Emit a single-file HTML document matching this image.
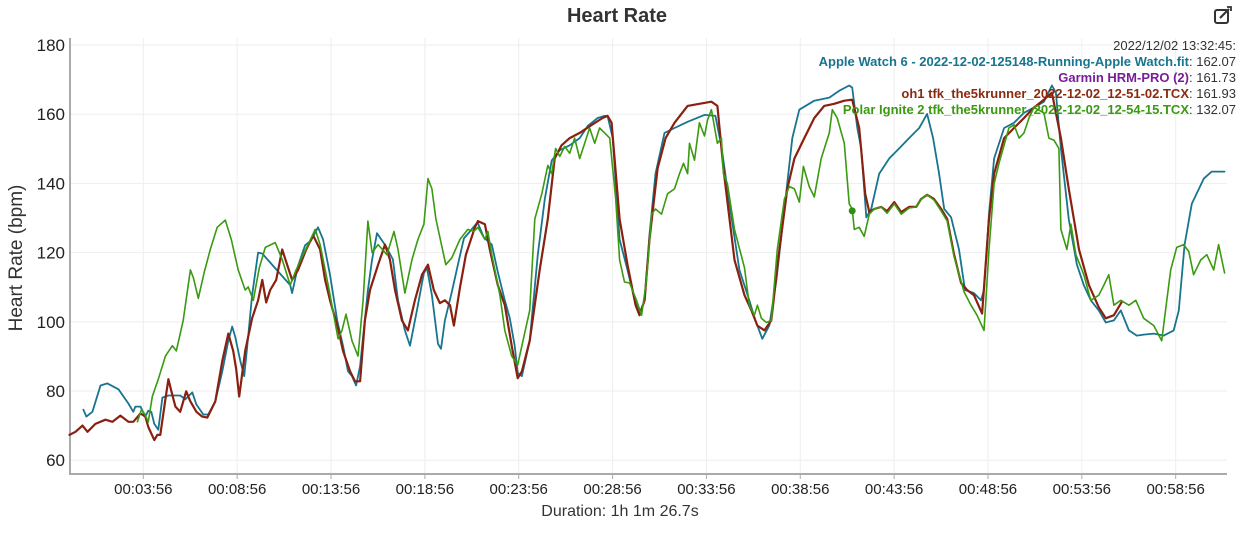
<!DOCTYPE html>
<html><head><meta charset="utf-8"><style>
body{margin:0;background:#fff;font-family:"Liberation Sans",Arial,sans-serif;}
svg text{font-family:"Liberation Sans",Arial,sans-serif;}
</style></head><body>
<svg id="chart" width="1245" height="549" viewBox="0 0 1245 549">
<text x="617" y="22" text-anchor="middle" font-size="20" font-weight="bold" fill="#333">Heart Rate</text>
<g transform="translate(1214,6)" fill="none" stroke="#333" stroke-width="2">
<rect x="1" y="4" width="13" height="13" rx="2"/><path d="M6 12 L15 3" stroke-width="2.2"/><path d="M13 1 L17 1 L17 5" stroke-width="1.8"/>
</g>
<g id="grid"></g>
<g id="axes"></g>
<g id="series"></g>
<text transform="translate(22,258) rotate(-90)" text-anchor="middle" font-size="19" fill="#333">Heart Rate (bpm)</text>
<text x="620" y="516" text-anchor="middle" font-size="16" fill="#333">Duration: 1h 1m 26.7s</text>
<g font-size="13" text-anchor="end">
<text x="1236" y="50" fill="#333">2022/12/02 13:32:45:</text>
<text x="1236" y="66"><tspan font-weight="bold" fill="#17758f">Apple Watch 6 - 2022-12-02-125148-Running-Apple Watch.fit</tspan><tspan fill="#333">: 162.07</tspan></text>
<text x="1236" y="82"><tspan font-weight="bold" fill="#7a1d9a">Garmin HRM-PRO (2)</tspan><tspan fill="#333">: 161.73</tspan></text>
<text x="1236" y="98"><tspan font-weight="bold" fill="#8a2a10">oh1 tfk_the5krunner_2022-12-02_12-51-02.TCX</tspan><tspan fill="#333">: 161.93</tspan></text>
<text x="1236" y="114"><tspan font-weight="bold" fill="#3a9a10">Polar Ignite 2 tfk_the5krunner_2022-12-02_12-54-15.TCX</tspan><tspan fill="#333">: 132.07</tspan></text>
</g>
</svg>
<script>
const yTicks=[60,80,100,120,140,160,180];
const xTickMinutes=[3.933,8.933,13.933,18.933,23.933,28.933,33.933,38.933,43.933,48.933,53.933,58.933];
const xTickLabels=["00:03:56","00:08:56","00:13:56","00:18:56","00:23:56","00:28:56","00:33:56","00:38:56","00:43:56","00:48:56","00:53:56","00:58:56"];
const appleT=[0.74,0.9,1.22,1.65,2.02,2.61,3.14,3.4,3.51,3.78,4.04,4.2,4.36,4.52,4.73,4.95,5.27,5.9,6.17,6.54,6.76,7.13,7.39,7.77,8.14,8.46,8.67,8.83,9.1,9.31,9.47,9.73,10.05,10.27,11.76,11.86,12.18,12.55,12.87,13.24,13.51,13.88,14.26,14.57,14.84,15.05,15.27,15.48,15.9,16.12,16.38,16.65,16.86,17.23,17.5,17.87,18.14,18.51,18.88,19.04,19.31,19.63,19.79,20.0,20.37,20.69,21.01,21.33,21.65,21.76,22.07,22.5,22.82,23.19,23.46,23.72,23.88,24.1,24.52,24.95,25.32,25.69,26.12,26.65,27.18,27.61,28.14,28.51,28.67,28.94,29.31,29.73,30.11,30.37,30.64,30.9,31.22,31.7,32.23,32.93,33.83,34.41,34.73,35.16,35.69,36.22,36.54,36.91,37.29,37.66,38.09,38.51,38.88,39.68,40.48,41.01,41.54,41.7,41.97,42.18,42.45,42.71,43.14,43.67,44.2,44.73,45.27,45.69,46.01,46.33,46.6,46.97,47.39,47.71,48.19,48.56,48.72,48.99,49.26,49.79,50.32,50.85,51.38,51.91,52.34,52.55,52.82,53.24,53.67,54.04,54.41,54.84,55.21,55.64,56.01,56.44,56.86,57.23,57.77,58.3,58.83,59.1,59.41,59.79,60.43,60.85,61.54];
const appleHR=[74.6,72.6,74.0,81.6,82.2,80.5,76.4,74.0,75.5,75.5,72.6,74.3,74.0,70.5,68.8,78.1,78.7,78.7,77.6,79.6,76.1,73.2,73.2,77.0,85.7,94.5,98.6,95.7,88.7,84.3,93.1,107.7,120.0,119.7,110.6,108.3,116.2,122.1,123.5,127.3,123.8,113.6,100.4,93.1,85.7,84.3,81.6,87.2,109.2,118.0,125.6,123.5,121.8,118.0,106.2,97.5,93.1,103.3,114.1,115.6,107.7,93.6,92.2,100.4,108.6,116.5,124.1,126.1,128.2,128.5,124.4,122.3,114.4,106.2,101.0,93.1,85.2,84.3,94.5,119.4,135.5,146.6,149.6,151.0,153.1,156.6,158.9,159.5,159.5,153.1,123.8,115.0,106.2,102.4,106.2,125.3,142.8,154.6,156.0,157.8,159.8,159.5,150.7,134.1,115.0,106.2,100.4,95.1,99.0,112.1,132.6,153.1,161.3,163.9,164.8,166.8,168.3,167.7,156.0,150.1,130.2,132.6,142.8,147.2,150.1,153.1,156.0,160.1,153.1,142.8,132.6,130.2,120.9,109.2,108.3,106.2,109.2,131.1,147.2,156.0,157.5,160.4,161.9,163.6,168.3,166.2,150.1,129.6,116.5,110.6,106.2,103.3,99.8,100.4,103.3,97.5,96.0,96.3,96.6,96.0,97.5,103.3,122.3,134.1,141.4,143.4,143.4];
const oh1T=[0,0.32,0.69,0.96,1.38,1.91,2.29,2.71,3.14,3.4,3.78,4.04,4.2,4.52,4.68,4.84,5.11,5.27,5.43,5.64,5.9,6.22,6.44,6.76,7.07,7.34,7.77,8.14,8.46,8.72,8.88,9.04,9.36,9.73,10.05,10.27,10.48,10.69,11.01,11.33,11.54,11.86,12.18,12.61,12.98,13.35,13.62,13.88,14.31,14.57,14.95,15.21,15.48,15.74,16.01,16.44,16.81,17.07,17.34,17.71,18.03,18.4,18.78,19.1,19.41,19.73,20.0,20.27,20.48,20.8,21.12,21.6,21.76,22.13,22.39,22.82,23.19,23.56,23.88,24.1,24.52,25.05,25.48,25.85,26.22,26.65,27.18,27.82,28.4,28.67,28.88,29.31,29.73,30.16,30.37,30.64,30.9,31.33,31.76,32.23,32.93,33.56,34.2,34.52,34.84,35.43,35.96,36.33,36.65,37.02,37.39,37.82,38.24,38.62,39.15,39.68,40.21,40.74,41.28,41.7,42.07,42.39,42.61,42.87,43.24,43.56,43.94,44.31,44.73,45.11,45.37,45.69,46.06,46.44,46.76,47.13,47.5,47.82,48.19,48.62,48.99,49.26,49.79,50.32,50.85,51.38,51.91,52.34,52.82,53.24,53.78,54.31,54.84,55.21,55.64,56.06];
const oh1HR=[67.3,68.2,70.0,68.2,70.5,71.7,71.1,72.9,71.1,71.1,73.5,72.6,69.6,65.8,67.3,67.3,77.6,83.4,79.9,75.5,74.0,79.9,77.0,74.0,72.6,72.3,77.0,88.7,96.6,91.6,86.3,78.4,91.6,101.0,106.2,112.1,105.6,109.2,112.1,120.9,117.4,112.1,115.0,120.9,125.0,120.9,112.1,106.2,98.0,91.6,85.7,82.8,82.8,100.4,109.2,116.5,122.3,118.0,109.2,100.4,97.5,106.2,113.6,116.5,109.2,105.4,106.2,104.8,98.9,109.8,119.4,127.3,129.1,128.2,120.9,110.6,104.8,93.1,83.7,85.7,94.5,115.0,129.7,147.2,151.0,153.1,154.6,156.9,158.9,159.5,157.5,129.7,116.5,104.8,101.9,106.2,123.8,144.3,153.1,157.5,162.4,163.0,163.6,162.4,144.3,117.9,107.7,103.3,98.9,97.5,100.4,120.9,138.4,147.2,153.1,158.9,162.4,163.0,163.9,164.2,156.0,137.0,131.7,132.6,133.2,132.0,134.6,131.7,133.2,133.2,135.5,136.7,135.5,132.6,129.7,119.4,111.2,109.2,107.7,102.4,129.7,142.8,153.1,156.0,158.9,161.9,164.2,166.2,153.1,138.4,120.9,110.6,104.2,101.0,101.9,105.7];
const polarT=[3.62,3.83,3.99,4.2,4.41,4.73,5.11,5.48,5.69,6.06,6.44,6.6,6.86,7.18,7.5,7.87,8.3,8.62,8.99,9.36,9.52,9.79,10.11,10.43,10.96,11.33,11.76,12.07,12.39,12.71,13.09,13.35,13.78,14.31,14.52,14.73,15.05,15.37,15.64,15.9,16.12,16.44,16.91,17.29,17.5,17.87,18.24,18.56,18.88,19.1,19.31,19.52,20.05,20.37,20.8,21.22,21.54,21.76,22.13,22.29,22.5,22.93,23.19,23.56,23.88,24.1,24.52,24.79,25.16,25.48,25.69,25.9,26.12,26.38,26.65,26.91,27.18,27.45,27.71,27.98,28.24,28.51,28.78,29.1,29.31,29.57,29.84,30.21,30.48,30.74,31.01,31.22,31.54,31.86,32.23,32.5,32.71,32.93,33.03,33.3,33.56,33.83,33.99,34.2,34.52,34.73,34.84,35.05,35.43,35.96,36.22,36.49,36.65,36.86,37.13,37.39,37.71,38.09,38.35,38.62,38.88,39.1,39.41,39.68,40.05,40.48,40.64,40.9,41.28,41.54,41.7,41.81,42.07,42.34,42.61,42.87,43.24,43.56,43.94,44.31,44.73,45.11,45.37,45.69,46.06,46.44,46.76,47.13,47.66,48.03,48.35,48.72,48.99,49.26,49.52,50.05,50.32,50.59,50.85,51.12,51.38,51.91,52.18,52.45,52.71,52.82,53.14,53.35,53.62,54.04,54.41,54.84,55.11,55.37,55.64,56.01,56.44,56.81,57.23,57.77,58.19,58.46,58.67,58.99,59.36,59.63,59.89,60.27,60.59,60.96,61.22,61.54];
const polarHR=[71.1,74.6,73.5,71.1,78.4,83.4,90.1,93.1,91.6,100.4,115.0,112.7,106.8,114.4,120.9,127.3,129.4,123.8,115.0,109.2,110.1,106.2,115.6,121.5,122.9,118.0,110.6,115.0,118.8,122.3,126.7,122.3,110.6,95.1,97.5,102.2,94.5,90.1,106.2,129.1,120.0,122.3,119.4,126.1,120.9,108.3,117.9,123.8,128.2,141.4,138.4,129.7,116.5,118.5,123.8,126.7,126.1,127.3,123.8,126.1,119.4,107.7,97.5,90.1,87.5,93.1,103.3,129.7,137.0,145.2,142.8,150.1,147.8,150.7,148.7,153.1,147.2,151.6,156.0,151.6,156.0,154.6,153.1,135.5,117.9,111.5,111.2,106.2,101.9,112.1,131.1,132.6,131.1,137.0,138.4,142.8,145.8,142.8,151.6,146.7,157.5,153.7,158.3,161.3,151.6,153.1,142.8,139.9,126.7,115.6,104.8,101.9,104.8,101.0,99.8,100.4,120.9,135.5,139.1,138.4,134.6,144.9,139.1,136.1,147.2,154.6,161.3,158.9,151.6,134.1,132.6,126.7,127.3,124.7,131.1,132.6,133.2,131.4,134.1,131.1,132.9,133.2,135.5,136.7,135.2,132.0,129.1,118.8,108.6,104.8,101.9,97.5,120.9,139.9,145.8,156.0,156.9,153.1,154.6,158.9,161.9,160.4,153.1,152.5,150.1,126.7,120.9,128.2,119.4,113.6,106.2,107.7,110.6,113.6,104.8,106.2,104.8,106.2,101.0,98.9,94.5,106.2,115.0,121.5,122.3,120.3,113.6,117.9,119.4,115.0,122.3,114.1];
const markerT=[41.7];
const markerHR=[132.07];

const NS="http://www.w3.org/2000/svg";
const X0=69.5,PXM=18.77,Y0=45,PXU=3.46;
function xs(m){return X0+m*PXM;}
function ys(v){return Y0+(180-v)*PXU;}
function mk(tag,attrs,parent){const e=document.createElementNS(NS,tag);for(const k in attrs)e.setAttribute(k,attrs[k]);parent.appendChild(e);return e;}
const grid=document.getElementById('grid'),axes=document.getElementById('axes'),series=document.getElementById('series');
yTicks.forEach(v=>{
  const l=mk('line',{x1:70,x2:1227,y1:ys(v),y2:ys(v),stroke:'#eeeeee','stroke-width':1},grid);
  
  
  const t=mk('text',{x:65,y:ys(v)+6,'text-anchor':'end','font-size':17,fill:'#222'},axes);
  
  
  t.textContent=v;
});
xTickMinutes.forEach((m,i)=>{
  const l=mk('line',{x1:xs(m),x2:xs(m),y1:38,y2:474,stroke:'#eeeeee','stroke-width':1},grid);
  
  
  const tk=mk('line',{x1:xs(m),x2:xs(m),y1:474,y2:479,stroke:'#aaa'},axes);
  
  
  const t=mk('text',{x:xs(m),y:494,'text-anchor':'middle','font-size':15,fill:'#222'},axes);
  
  
  t.textContent=xTickLabels[i];
});
const ya=mk('line',{x1:70,x2:70,y1:38,y2:474,stroke:'#aaa','stroke-width':2},axes);


const xa=mk('line',{x1:69,x2:1227,y1:474,y2:474,stroke:'#aaa','stroke-width':2},axes);


function line(T,H,color,w,name){
  const d=T.map((t,i)=>(i?'L':'M')+xs(t).toFixed(1)+' '+ys(H[i]).toFixed(1)).join(' ');
  const p=mk('path',{d:d,fill:'none',stroke:color,'stroke-width':w,'stroke-linejoin':'round','stroke-linecap':'round'},series);
  
  
}
line(appleT,appleHR,'#17758f',1.8,'apple-watch-line');
line(oh1T,oh1HR,'#8a2010',2.2,'oh1-line');
line(polarT,polarHR,'#3a9a10',1.6,'polar-ignite-line');
markerT.forEach((t,i)=>{
  const c=mk('circle',{cx:xs(t),cy:ys(markerHR[i]),r:3.5,fill:'#2e8f10'},series);
  
  
});
</script>
</body></html>
